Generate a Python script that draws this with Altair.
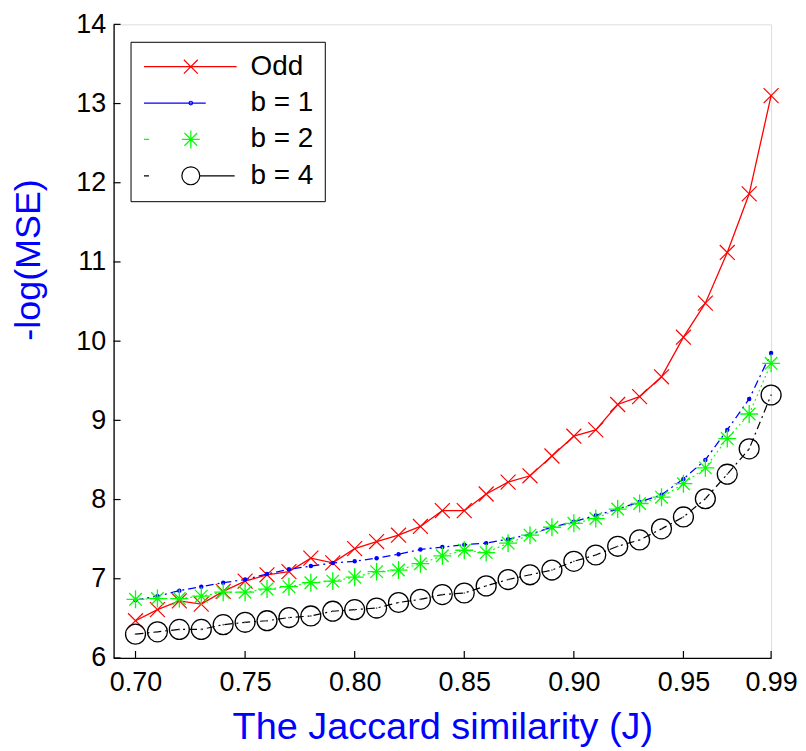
import altair as alt
import pandas as pd

# ---------------- data ----------------
J = [0.70, 0.71, 0.72, 0.73, 0.74, 0.75, 0.76, 0.77, 0.78, 0.79,
     0.80, 0.81, 0.82, 0.83, 0.84, 0.85, 0.86, 0.87, 0.88, 0.89,
     0.90, 0.91, 0.92, 0.93, 0.94, 0.95, 0.96, 0.97, 0.98, 0.99]
odd = [6.47, 6.61, 6.72, 6.68, 6.84, 6.97, 7.05, 7.09, 7.26, 7.20,
       7.38, 7.47, 7.55, 7.66, 7.86, 7.86, 8.07, 8.22, 8.30, 8.55,
       8.80, 8.88, 9.20, 9.30, 9.55, 10.05, 10.48, 11.12, 11.86, 13.10]
b1 = [6.73, 6.78, 6.85, 6.90, 6.95, 6.99, 7.06, 7.12, 7.16, 7.20,
      7.22, 7.26, 7.31, 7.37, 7.40, 7.43, 7.45, 7.50, 7.56, 7.65,
      7.72, 7.80, 7.88, 7.97, 8.06, 8.26, 8.50, 8.88, 9.27, 9.85]
b2 = [6.74, 6.75, 6.75, 6.78, 6.83, 6.83, 6.87, 6.90, 6.95, 6.97,
      7.02, 7.09, 7.11, 7.19, 7.29, 7.36, 7.33, 7.45, 7.55, 7.65,
      7.70, 7.76, 7.88, 7.95, 8.03, 8.20, 8.40, 8.77, 9.08, 9.72]
b4 = [6.30, 6.33, 6.36, 6.36, 6.42, 6.45, 6.47, 6.51, 6.53, 6.59,
      6.61, 6.63, 6.70, 6.74, 6.80, 6.82, 6.91, 6.99, 7.05, 7.11,
      7.22, 7.30, 7.41, 7.49, 7.63, 7.78, 8.01, 8.32, 8.64, 9.32]
series_names = ["Odd", "b = 1", "b = 2", "b = 4"]
series_colors = ["#FF0000", "#0000FF", "#00FF00", "#000000"]
x_ticks = [0.70, 0.75, 0.80, 0.85, 0.90, 0.95, 0.99]
y_ticks = [6, 7, 8, 9, 10, 11, 12, 13, 14]

rows = []
for name, vals in zip(series_names, [odd, b1, b2, b4]):
    for j, v in zip(J, vals):
        rows.append({"J": j, "series": name, "v": v})
df = pd.DataFrame(rows)
xt = pd.DataFrame({"J": x_ticks})
yt = pd.DataFrame({"v": y_ticks})

# ---------------- styling ----------------
W, H = 660, 636
FONT = "Liberation Sans"
BLUE = "#0000FF"

XPATH = "M-1,-1L1,1M-1,1L1,-1"
STAR = "M-1,0L1,0M0,-1L0,1M-0.7,-0.7L0.7,0.7M-0.7,0.7L0.7,-0.7"

# legend symbols: line sample + marker (pixel units, symbol size 4)
legend_paths = [
    "M-47,0L46,0M-7,-7L7,7M-7,7L7,-7",
    "M-47,0L15,0M1.8,0A1.8,1.8,0,1,1,-1.8,0A1.8,1.8,0,1,1,1.8,0",
    "M-47,0L-42,0M-9,0L9,0M0,-9L0,9M-6.4,-6.4L6.4,6.4M-6.4,6.4L6.4,-6.4",
    "M-47,0L-42,0M9,0A9,9,0,1,1,-9,0A9,9,0,1,1,9,0M9,0L44,0",
]

xs = alt.Scale(domain=[0.69, 0.99], nice=False, zero=False)
ys = alt.Scale(domain=[6, 14], nice=False, zero=False)

X = alt.X("J:Q", scale=xs, axis=alt.Axis(
    values=x_ticks, format=".2f", title="The Jaccard similarity (J)",
    titleColor=BLUE, titleFont=FONT, titleFontSize=38, titleFontWeight="normal",
    titlePadding=13, labelFont=FONT, labelFontSize=27, labelColor="black",
    labelPadding=12, ticks=False, tickSize=0, grid=False, domainColor="black",
    domainWidth=1.3, labelFlush=False, labelOverlap=False))
Y = alt.Y("v:Q", scale=ys, axis=alt.Axis(
    values=y_ticks, format="d", title="-log(MSE)",
    titleColor=BLUE, titleFont=FONT, titleFontSize=36, titleFontWeight="normal",
    titlePadding=28, titleY=236, labelFont=FONT, labelFontSize=27, labelColor="black",
    labelPadding=8, ticks=False, tickSize=0, grid=False, domainColor="black",
    domainWidth=1.3, labelOverlap=False))

base = alt.Chart(df)


def sel(name):
    return base.transform_filter(alt.datum.series == name)


layers = []
# lines
layers.append(sel("Odd").mark_line(color="#FF0000", strokeWidth=1.3).encode(x=X, y=Y))
layers.append(sel("b = 1").mark_line(color=BLUE, strokeWidth=1.3, strokeDash=[8, 4, 2, 4]).encode(x=X, y=Y))
layers.append(sel("b = 2").mark_line(color="#00FF00", strokeWidth=1.1, strokeDash=[2, 3]).encode(x=X, y=Y))
layers.append(sel("b = 4").mark_line(color="black", strokeWidth=1.2, strokeDash=[8, 4, 2, 4]).encode(x=X, y=Y))
# markers
layers.append(sel("Odd").mark_point(shape=XPATH, size=225, color="#FF0000", filled=False,
                                    opacity=1, strokeWidth=1.2).encode(x=X, y=Y))
layers.append(sel("b = 1").mark_point(shape="circle", size=20, color=BLUE, filled=True,
                                      opacity=1).encode(x=X, y=Y))
layers.append(sel("b = 2").mark_point(shape=STAR, size=324, color="#00FF00", filled=False,
                                      opacity=1, strokeWidth=1.3).encode(x=X, y=Y))
layers.append(sel("b = 4").mark_point(shape="circle", size=400, color="black", filled=False,
                                      opacity=1, strokeWidth=1.3).encode(x=X, y=Y))
layers.append(sel("b = 4").mark_point(shape="circle", size=3, color="#666666", filled=True,
                                      opacity=1).encode(x=X, y=Y))

# inward ticks
layers.append(alt.Chart(xt).mark_rule(color="black", strokeWidth=1.2).encode(
    x=X, y=alt.value(H), y2=alt.value(H - 7)))
layers.append(alt.Chart(yt).mark_rule(color="black", strokeWidth=1.2).encode(
    y=Y, x=alt.value(0), x2=alt.value(7)))

# legend (driven by the series scale, no visible data marks)
LEG = alt.Legend(orient="none", legendX=17, legendY=17.5, padding=11,
                 strokeColor="black", fillColor="white", symbolSize=4,
                 symbolOffset=35.5, labelOffset=46, labelFont=FONT,
                 labelFontSize=28, labelColor="black", rowPadding=8.5,
                 symbolStrokeWidth=1.2, symbolOpacity=1)
layers.append(base.transform_filter("false").mark_point(filled=False, opacity=1, size=4,
                                                        strokeWidth=1.2).encode(
    x=X, y=Y,
    color=alt.Color("series:N", scale=alt.Scale(domain=series_names, range=series_colors),
                    legend=LEG, title=None),
    shape=alt.Shape("series:N", scale=alt.Scale(domain=series_names, range=legend_paths),
                    legend=LEG, title=None),
))

chart = alt.layer(*layers).properties(
    width=W, height=H,
    padding={"left": 2, "top": 1, "right": 0, "bottom": 5},
).configure_view(stroke=None).configure(background="white")

chart.save("out.html", embed_options={"renderer": "svg", "actions": False})
